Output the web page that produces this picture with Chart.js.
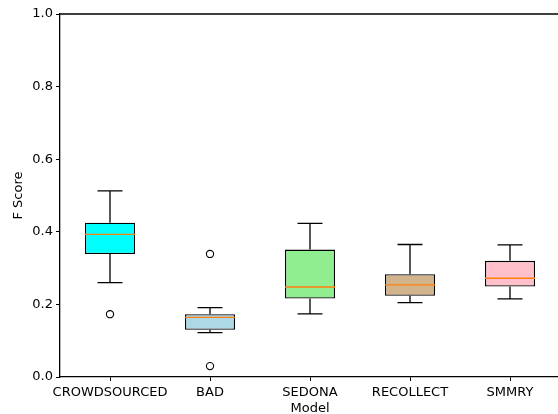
<!DOCTYPE html>
<html>
<head>
<meta charset="utf-8">
<script src="https://cdn.jsdelivr.net/npm/chart.js@4"></script>
<style>
  html, body { margin: 0; padding: 0; background: #fff; overflow: hidden; width: 558px; height: 414px; }
  #wrap { width: 600px; height: 414px; }
</style>
</head>
<body>
<div id="wrap"><canvas id="boxchart" width="600" height="414"></canvas></div>
<script>
// Box plot values (F score per model)
const models = ["CROWDSOURCED", "BAD", "SEDONA", "RECOLLECT", "SMMRY"];
const lowWhisker = [0.260, 0.122, 0.174, 0.205, 0.215];
const q1 = [0.339, 0.130, 0.216, 0.224, 0.249];
const medians = [0.393, 0.164, 0.248, 0.254, 0.272];
const q3 = [0.425, 0.173, 0.351, 0.283, 0.320];
const highWhisker = [0.513, 0.191, 0.423, 0.365, 0.364];

// Fliers
const outlierModels = ["CROWDSOURCED", "BAD", "BAD"];
const outlierValues = [0.173, 0.339, 0.030];

const yTicks = [0, 0.2, 0.4, 0.6, 0.8, 1.0];

const boxColors = ["#00ffff", "#add8e6", "#90ee90", "#d2b48c", "#ffc0cb"];
const medianColor = "#ff7f0e";

Chart.defaults.font.family = "'DejaVu Sans', sans-serif";
Chart.defaults.font.size = 13;
Chart.defaults.color = "#000";

// whiskers, caps, medians and the top/right spines
const boxExtras = {
  id: "boxExtras",
  afterDatasetsDraw(chart) {
    const ctx = chart.ctx;
    const yScale = chart.scales.y;
    const bars = chart.getDatasetMeta(0).data;
    ctx.save();
    bars.forEach((bar, i) => {
      const cx = bar.x;
      const half = bar.width / 2;
      const capHalf = bar.width / 4;
      ctx.strokeStyle = "#000";
      ctx.lineWidth = 1.3;
      ctx.beginPath();
      // upper whisker + cap
      ctx.moveTo(cx, yScale.getPixelForValue(q3[i]));
      ctx.lineTo(cx, yScale.getPixelForValue(highWhisker[i]));
      ctx.moveTo(cx - capHalf, yScale.getPixelForValue(highWhisker[i]));
      ctx.lineTo(cx + capHalf, yScale.getPixelForValue(highWhisker[i]));
      // lower whisker + cap
      ctx.moveTo(cx, yScale.getPixelForValue(q1[i]));
      ctx.lineTo(cx, yScale.getPixelForValue(lowWhisker[i]));
      ctx.moveTo(cx - capHalf, yScale.getPixelForValue(lowWhisker[i]));
      ctx.lineTo(cx + capHalf, yScale.getPixelForValue(lowWhisker[i]));
      ctx.stroke();

      ctx.strokeStyle = medianColor;
      ctx.beginPath();
      ctx.moveTo(cx - half, yScale.getPixelForValue(medians[i]));
      ctx.lineTo(cx + half, yScale.getPixelForValue(medians[i]));
      ctx.stroke();
    });
    const a = chart.chartArea;
    ctx.strokeStyle = "#000";
    ctx.lineWidth = 1.3;
    ctx.beginPath();
    ctx.moveTo(a.left, a.top);
    ctx.lineTo(a.right, a.top);
    ctx.lineTo(a.right, a.bottom);
    ctx.stroke();
    ctx.restore();
  },
};

const ctx = document.getElementById("boxchart").getContext("2d");

new Chart(ctx, {
  type: "bar",
  data: {
    labels: models,
    datasets: [
      {
        label: "box",
        data: models.map((m, i) => [q1[i], q3[i]]),
        backgroundColor: boxColors,
        borderColor: "#000",
        borderWidth: 1.3,
        borderSkipped: false,
        barPercentage: 0.5,
        categoryPercentage: 1.0,
      },
      {
        type: "line",
        label: "fliers",
        data: outlierModels.map((m, i) => ({ x: m, y: outlierValues[i] })),
        showLine: false,
        pointRadius: 3.6,
        pointBorderWidth: 1.1,
        pointBorderColor: "#000",
        pointBackgroundColor: "rgba(0,0,0,0)",
      },
    ],
  },
  options: {
    responsive: false,
    animation: false,
    devicePixelRatio: 1,
    layout: { padding: { top: 14, right: 40, left: 0, bottom: 0 } },
    plugins: {
      legend: { display: false },
      tooltip: { enabled: false },
    },
    scales: {
      x: {
        offset: true,
        afterFit: (scale) => { scale.height = 37; },
        grid: { offset: false, drawOnChartArea: false, tickLength: 4, color: "#000", lineWidth: 1 },
        border: { color: "#000", width: 1.3 },
        ticks: { padding: 4, maxRotation: 0, autoSkip: false },
        title: { display: true, text: "Model", padding: { top: 0, bottom: 0 }, font: { lineHeight: 0.9 } },
      },
      y: {
        min: 0,
        max: 1,
        afterFit: (scale) => { scale.width = 60; },
        afterBuildTicks: (scale) => { scale.ticks = yTicks.map((v) => ({ value: v })); },
        grid: { drawOnChartArea: false, tickLength: 4, color: "#000", lineWidth: 1 },
        border: { color: "#000", width: 1.3 },
        ticks: { padding: 3, callback: (v) => Number(v).toFixed(1) },
        title: { display: true, text: "F Score", padding: { top: 11, bottom: 0 } },
      },
    },
  },
  plugins: [boxExtras],
});
</script>
</body>
</html>
